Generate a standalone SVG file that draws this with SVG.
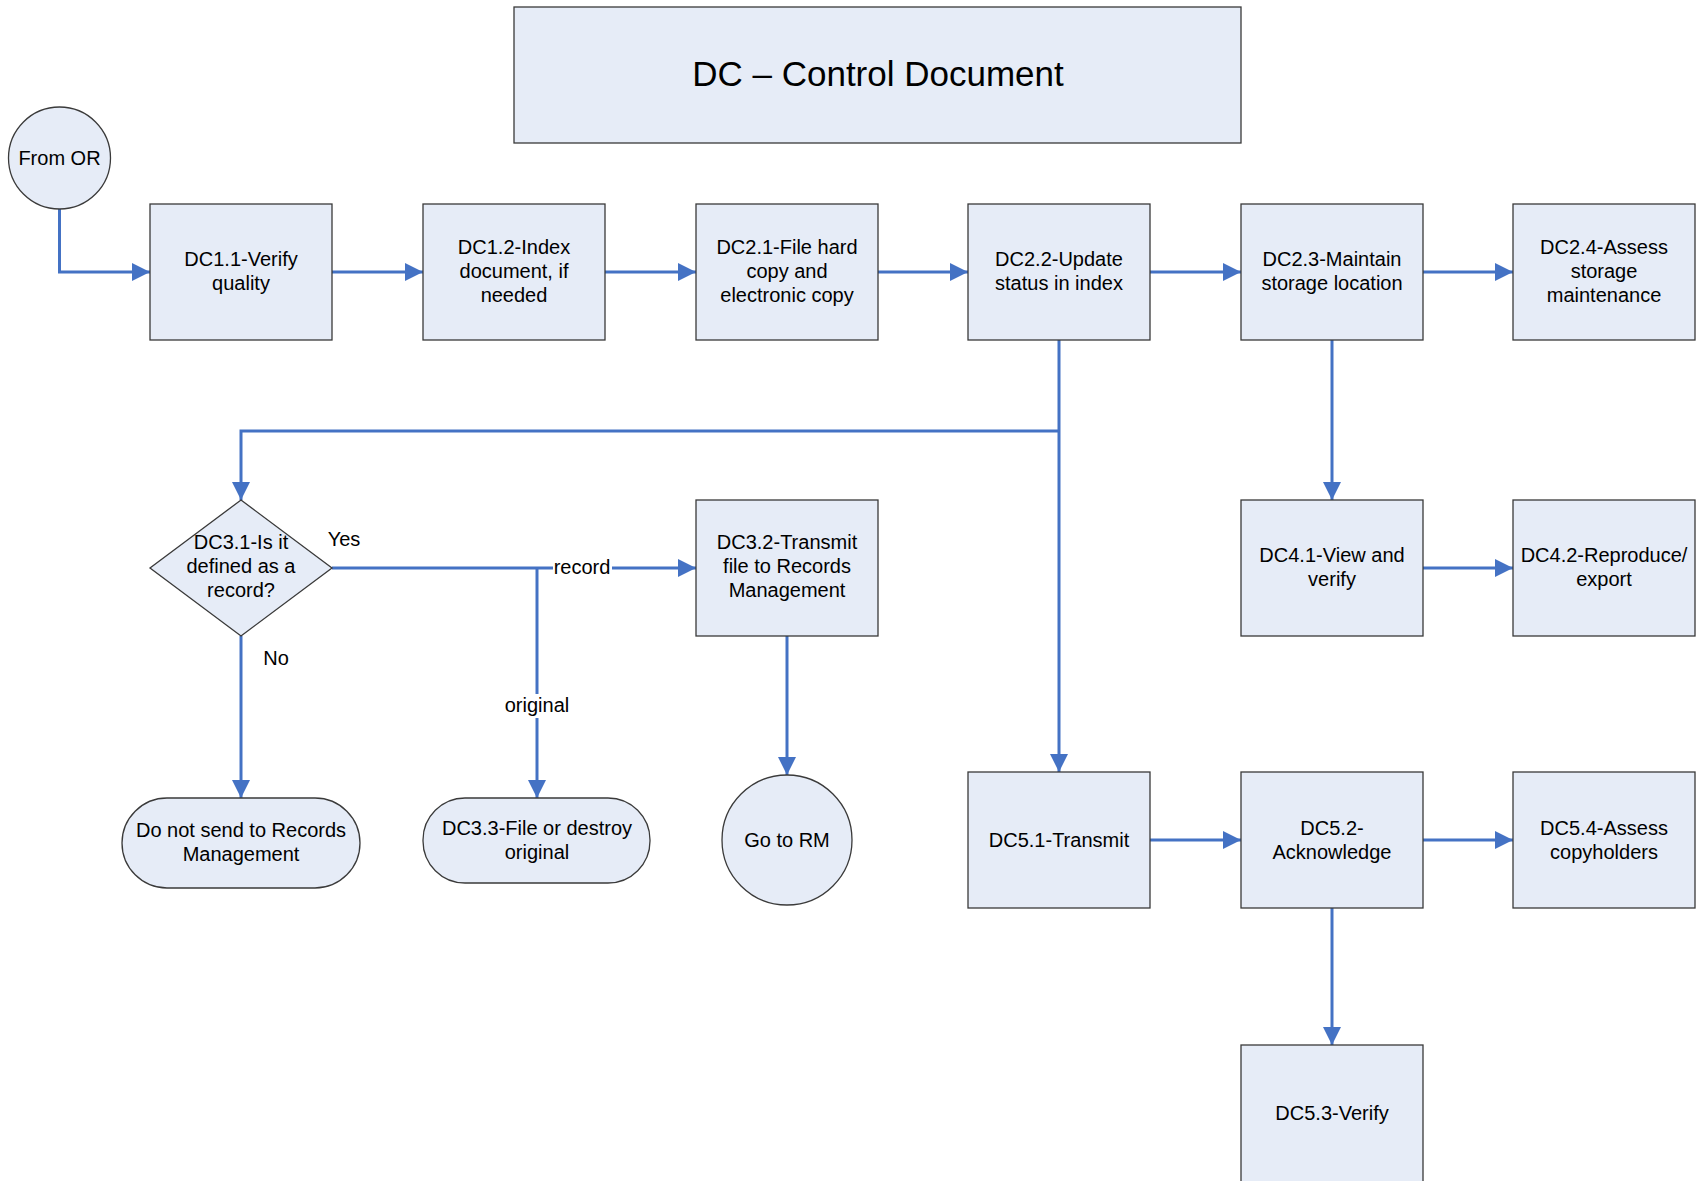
<svg xmlns="http://www.w3.org/2000/svg" width="1697" height="1181" viewBox="0 0 1697 1181">
<defs>
<marker id="ah" markerUnits="userSpaceOnUse" markerWidth="18" markerHeight="18" refX="18" refY="9" orient="auto">
<path d="M0,0 L18,9 L0,18 z" fill="#4472C4"/>
</marker>
</defs>
<style>
.n{fill:#E6ECF7;stroke:#3a3a3a;stroke-width:1.3}
.t{font-family:"Liberation Sans",Arial,sans-serif;font-size:20px;fill:#000;text-anchor:middle}
.c{fill:none;stroke:#4472C4;stroke-width:3}
.a{marker-end:url(#ah)}
.lb{fill:#fff}
</style>
<rect width="1697" height="1181" fill="#fff"/>
<g id="connectors">
<polyline class="c a" points="59.5,209 59.5,272 150,272"/>
<line class="c a" x1="332" y1="272" x2="423" y2="272"/>
<line class="c a" x1="605" y1="272" x2="696" y2="272"/>
<line class="c a" x1="878" y1="272" x2="968" y2="272"/>
<line class="c a" x1="1150" y1="272" x2="1241" y2="272"/>
<line class="c a" x1="1423" y1="272" x2="1513" y2="272"/>
<line class="c a" x1="1059" y1="340" x2="1059" y2="772"/>
<polyline class="c a" points="1059,431 241,431 241,500"/>
<line class="c a" x1="332" y1="568" x2="696" y2="568"/>
<line class="c a" x1="537" y1="568" x2="537" y2="798"/>
<line class="c a" x1="241" y1="636" x2="241" y2="798"/>
<line class="c a" x1="787" y1="636" x2="787" y2="775"/>
<line class="c a" x1="1332" y1="340" x2="1332" y2="500"/>
<line class="c a" x1="1423" y1="568" x2="1513" y2="568"/>
<line class="c a" x1="1150" y1="840" x2="1241" y2="840"/>
<line class="c a" x1="1423" y1="840" x2="1513" y2="840"/>
<line class="c a" x1="1332" y1="908" x2="1332" y2="1045"/>
<rect class="lb" x="553" y="556" width="59" height="24"/>
<text class="t" x="582" y="574">record</text>
<rect class="lb" x="503" y="694" width="68" height="24"/>
<text class="t" x="537" y="712">original</text>
<text class="t" x="344" y="546">Yes</text>
<text class="t" x="276" y="665">No</text>
</g>
<g id="title">
<rect class="n" x="514" y="7" width="727" height="136"/>
<text class="t" x="878" y="86" style="font-size:35px">DC – Control Document</text>
</g>
<g id="fromOR">
<circle class="n" cx="59.5" cy="158" r="51"/>
<text class="t" x="59.5" y="165">From OR</text>
</g>
<g id="DC1.1">
<rect class="n" x="150" y="204" width="182" height="136"/>
<text class="t" x="241" y="266">DC1.1-Verify</text>
<text class="t" x="241" y="290">quality</text>
</g>
<g id="DC1.2">
<rect class="n" x="423" y="204" width="182" height="136"/>
<text class="t" x="514" y="254">DC1.2-Index</text>
<text class="t" x="514" y="278">document, if</text>
<text class="t" x="514" y="302">needed</text>
</g>
<g id="DC2.1">
<rect class="n" x="696" y="204" width="182" height="136"/>
<text class="t" x="787" y="254">DC2.1-File hard</text>
<text class="t" x="787" y="278">copy and</text>
<text class="t" x="787" y="302">electronic copy</text>
</g>
<g id="DC2.2">
<rect class="n" x="968" y="204" width="182" height="136"/>
<text class="t" x="1059" y="266">DC2.2-Update</text>
<text class="t" x="1059" y="290">status in index</text>
</g>
<g id="DC2.3">
<rect class="n" x="1241" y="204" width="182" height="136"/>
<text class="t" x="1332" y="266">DC2.3-Maintain</text>
<text class="t" x="1332" y="290">storage location</text>
</g>
<g id="DC2.4">
<rect class="n" x="1513" y="204" width="182" height="136"/>
<text class="t" x="1604" y="254">DC2.4-Assess</text>
<text class="t" x="1604" y="278">storage</text>
<text class="t" x="1604" y="302">maintenance</text>
</g>
<g id="DC3.1">
<polygon class="n" points="241,500 332,568 241,636 150,568"/>
<text class="t" x="241" y="549">DC3.1-Is it</text>
<text class="t" x="241" y="573">defined as a</text>
<text class="t" x="241" y="597">record?</text>
</g>
<g id="DC3.2">
<rect class="n" x="696" y="500" width="182" height="136"/>
<text class="t" x="787" y="549">DC3.2-Transmit</text>
<text class="t" x="787" y="573">file to Records</text>
<text class="t" x="787" y="597">Management</text>
</g>
<g id="DoNotSend">
<rect class="n" x="122" y="798" width="238" height="90" rx="45" ry="45"/>
<text class="t" x="241" y="837">Do not send to Records</text>
<text class="t" x="241" y="861">Management</text>
</g>
<g id="DC3.3">
<rect class="n" x="423" y="798" width="227" height="85" rx="42" ry="42"/>
<text class="t" x="537" y="835">DC3.3-File or destroy</text>
<text class="t" x="537" y="859">original</text>
</g>
<g id="GoToRM">
<circle class="n" cx="787" cy="840" r="65"/>
<text class="t" x="787" y="847">Go to RM</text>
</g>
<g id="DC4.1">
<rect class="n" x="1241" y="500" width="182" height="136"/>
<text class="t" x="1332" y="562">DC4.1-View and</text>
<text class="t" x="1332" y="586">verify</text>
</g>
<g id="DC4.2">
<rect class="n" x="1513" y="500" width="182" height="136"/>
<text class="t" x="1604" y="562">DC4.2-Reproduce/</text>
<text class="t" x="1604" y="586">export</text>
</g>
<g id="DC5.1">
<rect class="n" x="968" y="772" width="182" height="136"/>
<text class="t" x="1059" y="847">DC5.1-Transmit</text>
</g>
<g id="DC5.2">
<rect class="n" x="1241" y="772" width="182" height="136"/>
<text class="t" x="1332" y="835">DC5.2-</text>
<text class="t" x="1332" y="859">Acknowledge</text>
</g>
<g id="DC5.4">
<rect class="n" x="1513" y="772" width="182" height="136"/>
<text class="t" x="1604" y="835">DC5.4-Assess</text>
<text class="t" x="1604" y="859">copyholders</text>
</g>
<g id="DC5.3">
<rect class="n" x="1241" y="1045" width="182" height="140"/>
<text class="t" x="1332" y="1120">DC5.3-Verify</text>
</g>
</svg>
